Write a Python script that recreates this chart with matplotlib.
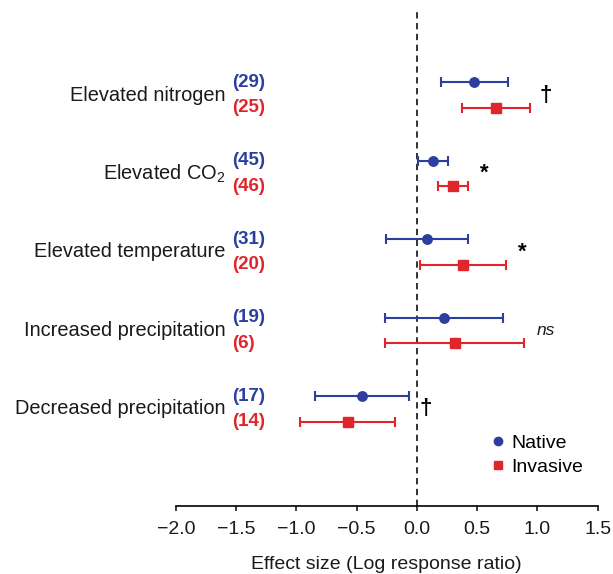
import matplotlib
matplotlib.use("Agg")
import matplotlib.pyplot as plt
from matplotlib.lines import Line2D
import numpy as np

plt.rcParams['font.family'] = ['Liberation Sans', 'DejaVu Sans']
plt.rcParams['mathtext.fontset'] = 'custom'
plt.rcParams['mathtext.rm'] = 'Liberation Sans'
plt.rcParams['mathtext.it'] = 'Liberation Sans:italic'

categories = ["Elevated nitrogen", "Elevated CO$_2$", "Elevated temperature",
              "Increased precipitation", "Decreased precipitation"]
native_n = [29, 45, 31, 19, 17]
invasive_n = [25, 46, 20, 6, 14]
native_mean = [0.476, 0.130, 0.083, 0.224, -0.454]
native_lo = [0.197, 0.011, -0.257, -0.263, -0.845]
native_hi = [0.756, 0.257, 0.421, 0.714, -0.066]
invasive_mean = [0.653, 0.296, 0.385, 0.318, -0.576]
invasive_lo = [0.371, 0.172, 0.028, -0.263, -0.972]
invasive_hi = [0.941, 0.421, 0.742, 0.891, -0.183]
signif = ["\u2020", "*", "*", "ns", "\u2020"]
signif_x = [1.07, 0.556, 0.878, 1.07, 0.072]
xticks = [-2.0, -1.5, -1.0, -0.5, 0.0, 0.5, 1.0, 1.5]

blue = '#2B3F9E'
red = '#E0262B'
txt = '#1a1a1a'

fig = plt.figure(figsize=(6.13, 5.74), dpi=100)
ax = fig.add_axes([0.287, 0.119, 0.688, 0.867])

n = len(categories)
ypos = np.arange(n)[::-1].astype(float)
off = 0.165

nm = np.array(native_mean); im = np.array(invasive_mean)
ax.errorbar(nm, ypos + off,
            xerr=[nm - np.array(native_lo), np.array(native_hi) - nm],
            fmt='o', color=blue, ms=6.8, elinewidth=1.5, capsize=3.5, capthick=1.5,
            zorder=3)
ax.errorbar(im, ypos - off,
            xerr=[im - np.array(invasive_lo), np.array(invasive_hi) - im],
            fmt='s', color=red, ms=6.8, elinewidth=1.5, capsize=3.5, capthick=1.5,
            zorder=3)

ax.axvline(0, color='#222222', lw=1.3, ls=(0, (3.5, 2.5)), zorder=1)

for i, y in enumerate(ypos):
    ax.text(-1.588, y, categories[i], ha='right', va='center', fontsize=14.4,
            color=txt)
    ax.text(-1.537, y + off, f"({native_n[i]})", ha='left', va='center',
            fontsize=13.5, fontweight='bold', color=blue)
    ax.text(-1.537, y - off, f"({invasive_n[i]})", ha='left', va='center',
            fontsize=13.5, fontweight='bold', color=red)
    s = signif[i]
    if s == 'ns':
        ax.text(signif_x[i], y, s, ha='center', va='center', fontsize=12.5,
                style='italic', color=txt)
    else:
        ax.text(signif_x[i], y, s, ha='center', va='center', fontsize=16,
                fontweight='bold', color='black')

ax.set_xlim(-2.0, 1.5)
ax.set_ylim(-1.232, 5.108)
ax.set_xticks(xticks)
ax.set_xticklabels([f"{t:.1f}".replace('-', '\u2212') for t in xticks])
ax.tick_params(axis='x', labelsize=14, length=3.5, width=1.2, pad=7.5, colors=txt)
ax.set_yticks([])
for sp in ['left', 'right', 'top']:
    ax.spines[sp].set_visible(False)
ax.spines['bottom'].set_linewidth(1.2)
ax.set_xlabel("Effect size (Log response ratio)", fontsize=14, labelpad=13, color=txt)

handles = [Line2D([], [], marker='o', color=blue, ls='none', ms=6),
           Line2D([], [], marker='s', color=red, ls='none', ms=6)]
fig.legend(handles, ['Native', 'Invasive'], loc='center left',
           bbox_to_anchor=(490 / 613, 1 - 455 / 574), frameon=False,
           fontsize=14, handlelength=0.8, handletextpad=0.3, labelspacing=0.34,
           borderpad=0, borderaxespad=0)

fig.savefig("out.png", dpi=100)
